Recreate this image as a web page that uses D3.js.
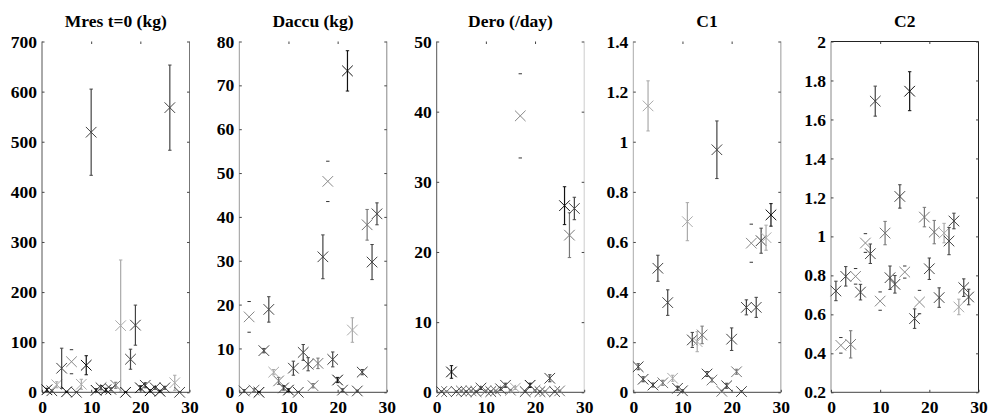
<!DOCTYPE html>
<html><head><meta charset="utf-8">
<script src="https://cdn.jsdelivr.net/npm/d3@7"></script>
<style>body{margin:0;background:#fff}svg{display:block}</style>
</head><body>
<script>
const titles = ["Mres t=0 (kg)", "Daccu (kg)", "Dero (/day)", "C1", "C2"];
const xIdx = d3.range(1, 29);
const xTicks = [0, 10, 20, 30];

const mresVal = [5,3,15,48,1,61,0,16,54,519,4,9,5,6,14,133,0,66,134,9,14,3,9,2,9,568,19,0];
const mresErr = [3,2,6,40,1,24,1,10,19,86,3,4,3,3,6,131,1,20,40,4,5,2,3,2,3,85,15,1];
const mresShade = [0,1,3,1,0,4,1,3,0,1,0,1,0,1,2,3,0,1,1,0,1,0,1,0,1,1,3,1];
const mresTicks = [0,100,200,300,400,500,600,700];

const daccuVal = [0.3,17.2,0.5,0,9.5,18.9,4.6,2.6,1.0,0.5,5.5,0,9.1,6.4,1.5,6.6,30.9,48.1,7.5,2.8,0.5,73.3,14.2,0.3,4.6,38.2,29.7,40.7];
const daccuErr = [0.3,3.5,0.3,0.2,0.5,2.9,0.6,0.8,0.5,0.3,1.6,0.2,1.8,1.5,0.5,1.2,5,4.6,1.7,0.6,0.3,4.6,2.8,0.2,0.6,3.5,4,2.5];
const daccuShade = [1,4,2,0,1,1,3,2,1,0,1,1,1,1,2,2,1,4,1,0,1,0,3,1,1,2,1,1];
const daccuTicks = [0,10,20,30,40,50,60,70,80];

const deroVal = [0.1,0.1,2.9,0.1,0.2,0.1,0.2,0.1,0.6,0.2,0.1,0.2,0.5,1.0,0.3,0.6,39.4,0.1,1.0,0.3,0.1,0.1,2.0,0.1,0.2,26.6,22.4,26.2];
const deroErr = [0.1,0.1,0.9,0.1,0.1,0.1,0.1,0.1,0.2,0.1,0.1,0.1,0.2,0.3,0.1,0.2,6,0.1,0.3,0.1,0.1,0.1,0.5,0.1,0.1,2.7,3.2,1.6];
const deroShade = [1,2,0,1,2,1,2,1,1,2,1,2,1,1,2,3,4,1,0,2,1,2,1,1,2,0,2,1];
const deroTicks = [0,10,20,30,40,50];

const c1Val = [0.102,0.052,1.143,0.029,0.495,0.038,0.358,0.056,0.016,0.006,0.681,0.209,0.202,0.229,0.073,0.049,0.968,0.004,0.026,0.212,0.082,0.003,0.339,0.595,0.339,0.605,0.617,0.708];
const c1Err = [0.012,0.01,0.1,0.008,0.052,0.01,0.051,0.012,0.008,0.004,0.076,0.03,0.04,0.035,0.01,0.008,0.115,0.004,0.01,0.045,0.01,0.003,0.03,0.076,0.04,0.05,0.05,0.045];
const c1Shade = [1,1,3,1,1,2,1,3,1,1,3,1,3,2,1,2,1,2,1,1,2,1,1,4,1,1,3,0];
const c1Ticks = [0,0.2,0.4,0.6,0.8,1,1.2,1.4];

const c2Val = [0.720,0.441,0.795,0.446,0.795,0.714,0.966,0.911,1.694,0.668,1.017,0.788,0.754,1.205,0.817,1.745,0.578,0.663,1.099,0.834,1.022,0.686,1.017,0.976,1.079,0.638,0.737,0.689];
const c2Err = [0.05,0.04,0.05,0.07,0.04,0.04,0.048,0.05,0.077,0.047,0.06,0.06,0.045,0.06,0.031,0.1,0.05,0.06,0.05,0.055,0.06,0.05,0.05,0.07,0.04,0.04,0.045,0.04];
const c2Shade = [1,4,1,2,4,1,4,1,1,4,2,1,1,1,4,0,1,4,2,1,2,1,3,1,1,3,1,1];
const c2Ticks = [0.2,0.4,0.6,0.8,1,1.2,1.4,1.6,1.8,2];

const panels = [
  {val: mresVal, err: mresErr, shade: mresShade, ticks: mresTicks, dom: [0,700], axisCol: "#555", rightCol: "#777", box: false},
  {val: daccuVal, err: daccuErr, shade: daccuShade, ticks: daccuTicks, dom: [0,80], axisCol: "#999", rightCol: "#888", box: false},
  {val: deroVal, err: deroErr, shade: deroShade, ticks: deroTicks, dom: [0,50], axisCol: "#555", rightCol: "#ccc", box: false},
  {val: c1Val, err: c1Err, shade: c1Shade, ticks: c1Ticks, dom: [0,1.4], axisCol: "#aaa", rightCol: "#bbb", box: false},
  {val: c2Val, err: c2Err, shade: c2Shade, ticks: c2Ticks, dom: [0.2,2], axisCol: "#888", rightCol: "#222", box: true}
];

const W = 989, H = 418;
const lefts = [42, 239.3, 436.7, 633.3, 831];
const pw = 147.5, plotTop = 41.5, plotBottom = 392.3;
const markCol = ["#111", "#444", "#777", "#aaa", "#888"];
const lineCol = ["#111", "#444", "#777", "#aaa", "none"];
const capCol = ["#111", "#444", "#777", "#aaa", "#333"];
const FONT = '"Liberation Serif", Tinos, "Times New Roman", serif';

const svg = d3.select("body").append("svg").attr("width", W).attr("height", H);

function styleText(sel, size) {
  sel.attr("font-family", null)
     .style("font-family", FONT).style("font-weight", "bold").style("font-size", size + "px").attr("fill", "#000");
}

panels.forEach((p, i) => {
  const x = d3.scaleLinear().domain([0, 30]).range([lefts[i], lefts[i] + pw]);
  const y = d3.scaleLinear().domain(p.dom).range([plotBottom, plotTop]);
  const g = svg.append("g");

  g.append("text").attr("x", lefts[i] + pw / 2).attr("y", 27)
    .attr("text-anchor", "middle").text(titles[i]).call(styleText, 17.5);

  g.append("line").attr("x1", x(0)).attr("x2", x(0)).attr("y1", plotTop).attr("y2", plotBottom).attr("stroke", p.axisCol);
  g.append("line").attr("x1", x(30)).attr("x2", x(30)).attr("y1", plotTop).attr("y2", plotBottom).attr("stroke", p.rightCol).attr("stroke-width", i === 3 ? 1.5 : 1);
  g.append("line").attr("x1", x(0)).attr("x2", x(30)).attr("y1", plotBottom).attr("y2", plotBottom).attr("stroke", "#444");
  if (p.box) g.append("line").attr("x1", x(0)).attr("x2", x(30)).attr("y1", plotTop).attr("y2", plotTop).attr("stroke", "#222");

  const yAxis = d3.axisLeft(y).tickValues(p.ticks).tickSize(-2.5).tickPadding(5).tickFormat(d3.format("~g"));
  const ya = g.append("g").attr("transform", `translate(${x(0)},0)`).call(yAxis);
  const xAxis = d3.axisBottom(x).tickValues(xTicks).tickSize(-2.5).tickPadding(8).tickFormat(d3.format("d"));
  const xa = g.append("g").attr("transform", `translate(0,${plotBottom})`).call(xAxis);
  [ya, xa].forEach(a => {
    a.attr("font-family", null).attr("font-size", null);
    a.select(".domain").remove();
    a.selectAll("line").attr("stroke", "#444");
    a.selectAll("text").call(styleText, 17.5);
  });
  const rt = d3.axisRight(y).tickValues(p.ticks).tickSize(-2.5).tickFormat("");
  const ra = g.append("g").attr("transform", `translate(${x(30)},0)`).call(rt);
  const tt = d3.axisTop(x).tickValues(xTicks.slice(1, 3)).tickSize(-2.5).tickFormat("");
  const ta = g.append("g").attr("transform", `translate(0,${plotTop})`).call(tt);
  [ra, ta].forEach(a => { a.select(".domain").remove(); a.selectAll("line").attr("stroke", "#444"); });

  const pts = xIdx.map((xi, k) => ({x: xi, v: p.val[k], e: p.err[k], s: p.shade[k]}));
  const eg = g.append("g");
  pts.forEach(d => {
    const cx = x(d.x), lo = y(Math.max(p.dom[0], d.v - d.e)), hi = y(d.v + d.e);
    if (lineCol[d.s] !== "none")
      eg.append("line").attr("x1", cx).attr("x2", cx).attr("y1", lo).attr("y2", hi).attr("stroke", lineCol[d.s]).attr("stroke-width", 1.2);
    [lo, hi].forEach(yy => eg.append("line").attr("x1", cx - 1.7).attr("x2", cx + 1.7).attr("y1", yy).attr("y2", yy).attr("stroke", capCol[d.s]));
    const r = 5.3, cy = y(d.v);
    eg.append("path").attr("d", `M${cx - r},${cy - r}L${cx + r},${cy + r}M${cx - r},${cy + r}L${cx + r},${cy - r}`)
      .attr("stroke", markCol[d.s]).attr("stroke-width", 1).attr("fill", "none");
  });
});
</script>
</body></html>
